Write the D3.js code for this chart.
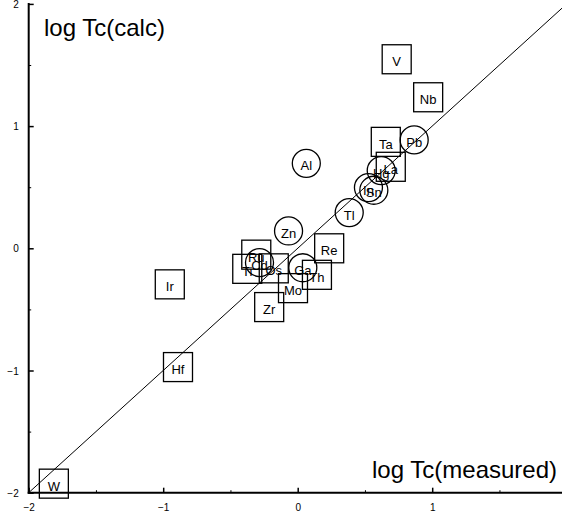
<!DOCTYPE html>
<html><head><meta charset="utf-8">
<script src="https://cdn.jsdelivr.net/npm/d3@7"></script>
<style>body{margin:0;background:#fff}svg{display:block}</style>
</head><body><svg id="c" width="562" height="518"></svg>
<script>
const elements = ["W","Hf","Ir","Zr","Ti","Ru","Cd","Os","Mo","Zn","Ga","Th","Re","Al","Tl","In","Sn","Hg","La","Ta","V","Pb","Nb"];
const measured = [-1.813,-0.890,-0.951,-0.212,-0.375,-0.308,-0.284,-0.178,-0.035,-0.068,0.038,0.143,0.234,0.064,0.383,0.526,0.566,0.621,0.692,0.655,0.736,0.866,0.970];
const calc     = [-1.926,-0.972,-0.295,-0.481,-0.168,-0.052,-0.117,-0.164,-0.326,0.142,-0.159,-0.217,0.000,0.695,0.292,0.497,0.475,0.636,0.667,0.871,1.547,0.887,1.236];
const shapes   = ["s","s","s","s","s","s","c","s","s","c","c","s","s","c","c","c","c","c","s","s","s","c","s"];
const xMajorTicks = [-2,-1,0,1];
const yMajorTicks = [-2,-1,0,1,2];
const minorTicks = [-1.5,-0.5,0.5,1.5];
const xTitle = "log Tc(measured)";
const yTitle = "log Tc(calc)";

const svg = d3.select("#c");
const x = d3.scaleLinear().domain([-2,2]).range([28.7,566.7]);
const y = d3.scaleLinear().domain([-2,2]).range([492.7,3.9]);

// diagonal
svg.append("line").attr("x1",x(-2)).attr("y1",y(-2)).attr("x2",x(2)).attr("y2",y(2))
  .attr("stroke","#000").attr("stroke-width",1);

// minor ticks
const gxm = svg.append("g").attr("transform",`translate(0,${y(-2)})`)
  .call(d3.axisBottom(x).tickValues(minorTicks).tickSize(-2.5).tickFormat("").tickSizeOuter(0));
const gym = svg.append("g").attr("transform",`translate(${x(-2)},0)`)
  .call(d3.axisLeft(y).tickValues(minorTicks).tickSize(-2.5).tickFormat("").tickSizeOuter(0));
[gxm,gym].forEach(g=>{g.select(".domain").remove(); g.selectAll("line").attr("stroke","#000").attr("stroke-width",1);});

// major axes
const gx = svg.append("g").attr("transform",`translate(0,${y(-2)})`)
  .call(d3.axisBottom(x).tickValues(xMajorTicks).tickSize(-5).tickPadding(11).tickSizeOuter(0).tickFormat(d3.format("d")));
const gy = svg.append("g").attr("transform",`translate(${x(-2)},0)`)
  .call(d3.axisLeft(y).tickValues(yMajorTicks).tickSize(-5).tickPadding(10).tickSizeOuter(0).tickFormat(d3.format("d")));
[gx,gy].forEach(g=>{
  g.select(".domain").attr("stroke","#000").attr("stroke-width",2);
  g.selectAll(".tick line").attr("stroke","#000").attr("stroke-width",1.5);
  g.selectAll(".tick text").attr("font-family","Liberation Sans, Arial, sans-serif").attr("font-size",10).attr("fill","#000");
});
gx.select(".domain").attr("d",`M${x(-2)-1},0H562`);
gy.select(".domain").attr("d",`M0,${y(-2)+1}V3`);
gy.selectAll(".tick text").attr("dy","0.35em");

// markers
const pts = elements.map((e,i)=>({e, mx:measured[i], cy:calc[i], s:shapes[i]}));
const g = svg.append("g");
const size = 29;
pts.forEach(p=>{
  const px = x(p.mx), py = y(p.cy);
  if (p.s==="s") {
    g.append("rect").attr("x",px-size/2).attr("y",py-size/2).attr("width",size).attr("height",size)
      .attr("fill","none").attr("stroke","#000").attr("stroke-width",1.3);
  } else {
    g.append("circle").attr("cx",px).attr("cy",py).attr("r",14)
      .attr("fill","none").attr("stroke","#000").attr("stroke-width",1.3);
  }
  g.append("text").attr("x",px).attr("y",py+7).attr("text-anchor","middle")
    .attr("font-family","Liberation Sans, Arial, sans-serif").attr("font-size",13).attr("fill","#000").text(p.e);
});

// titles
svg.append("text").attr("x",44).attr("y",36).attr("font-family","Liberation Sans, Arial, sans-serif")
  .attr("font-size",24).attr("fill","#000").text(yTitle);
svg.append("text").attr("x",557).attr("y",478).attr("text-anchor","end").attr("font-family","Liberation Sans, Arial, sans-serif")
  .attr("font-size",24).attr("fill","#000").text(xTitle);
</script></body></html>
